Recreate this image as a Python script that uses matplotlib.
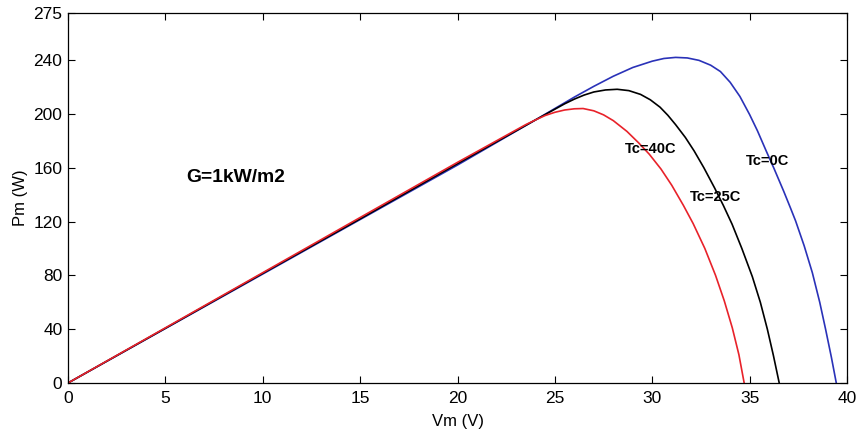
import matplotlib
matplotlib.use("Agg")
import matplotlib.pyplot as plt

plt.rcParams['font.family'] = ['Liberation Sans', 'DejaVu Sans']

# Tc = 0 C
v_0c = [0, 5, 10, 15, 20, 24, 25, 26, 27, 28, 29, 30, 30.6, 31.2, 31.8, 32.4, 33.0,
        33.5, 34.0, 34.5, 35.0, 35.4, 35.85, 36.25, 36.75, 37.1, 37.36, 37.8, 38.22,
        38.6, 38.9, 39.2, 39.45]
p_0c = [0, 40.5, 81, 121.5, 162, 195.5, 204, 212.5, 220.5, 228, 234.5, 239.2, 241.2,
        242, 241.6, 239.8, 236.2, 231.5, 223.5, 213, 199.5, 187.5, 172.5, 159.5, 142.5,
        130, 120.5, 102, 82, 60, 40, 19, 0]

# Tc = 25 C
v_25c = [0, 5, 10, 15, 20, 24, 25, 25.5, 26, 26.5, 27, 27.6, 28.2, 28.8, 29.4, 29.9,
         30.4, 30.8, 31.2, 31.7, 32.15, 32.65, 33.2, 33.65, 34.1, 34.6, 35.14, 35.55,
         35.91, 36.22, 36.52]
p_25c = [0, 40.7, 81.5, 122, 163, 195.5, 203.5, 207.5, 211, 214, 216.3, 217.8, 218.3,
         217.3, 214.5, 210.5, 205, 199, 192, 182.5, 172.5, 160, 145, 132, 118, 100,
         79, 60, 40, 20.5, 0]

# Tc = 40 C
v_40c = [0, 5, 10, 15, 20, 23.5, 24, 24.5, 25, 25.5, 26, 26.45, 27, 27.5, 28, 28.7,
         29.3, 29.85, 30.45, 31.0, 31.6, 32.1, 32.7, 33.25, 33.7, 34.11, 34.45, 34.72]
p_40c = [0, 41, 82, 123, 164, 192, 195.5, 198.8, 201.2, 202.9, 203.8, 204, 202.3,
         199.3, 195, 187, 178.5, 170, 159, 147, 132, 118.5, 100, 80, 61, 41, 21, 0]

x_ticks = [0, 5, 10, 15, 20, 25, 30, 35, 40]
y_ticks = [0, 40, 80, 120, 160, 200, 240, 275]

fig = plt.figure(figsize=(8.6, 4.32), dpi=100)
ax = fig.add_axes([68/860, 1 - 383/432, (847-68)/860, (383-13)/432])

ax.plot(v_0c, p_0c, color='#2a32b8', lw=1.2)
ax.plot(v_25c, p_25c, color='black', lw=1.2)
ax.plot(v_40c, p_40c, color='#e8222a', lw=1.2)

ax.set_xlim(0, 40)
ax.set_ylim(0, 275)
ax.set_xticks(x_ticks)
ax.set_yticks(y_ticks)
ax.tick_params(direction='in', top=True, right=True, labelsize=12.5, length=5, width=0.8,
               colors='black')
ax.tick_params(axis='x', pad=5.5)
ax.tick_params(axis='y', pad=4)
for s in ax.spines.values():
    s.set_linewidth(0.9)

ax.set_xlabel('Vm (V)', fontsize=12, labelpad=6)
ax.set_ylabel('Pm (W)', fontsize=12, labelpad=4)

ax.text(6.06, 152.5, 'G=1kW/m2', fontsize=13.9, fontweight='bold', va='center', ha='left')
ax.text(28.6, 174, 'Tc=40C', fontsize=10.5, fontweight='bold', va='center', ha='left')
ax.text(31.95, 138, 'Tc=25C', fontsize=10.5, fontweight='bold', va='center', ha='left')
ax.text(34.8, 165, 'Tc=0C', fontsize=10.5, fontweight='bold', va='center', ha='left')

fig.savefig('out.png', dpi=100)
